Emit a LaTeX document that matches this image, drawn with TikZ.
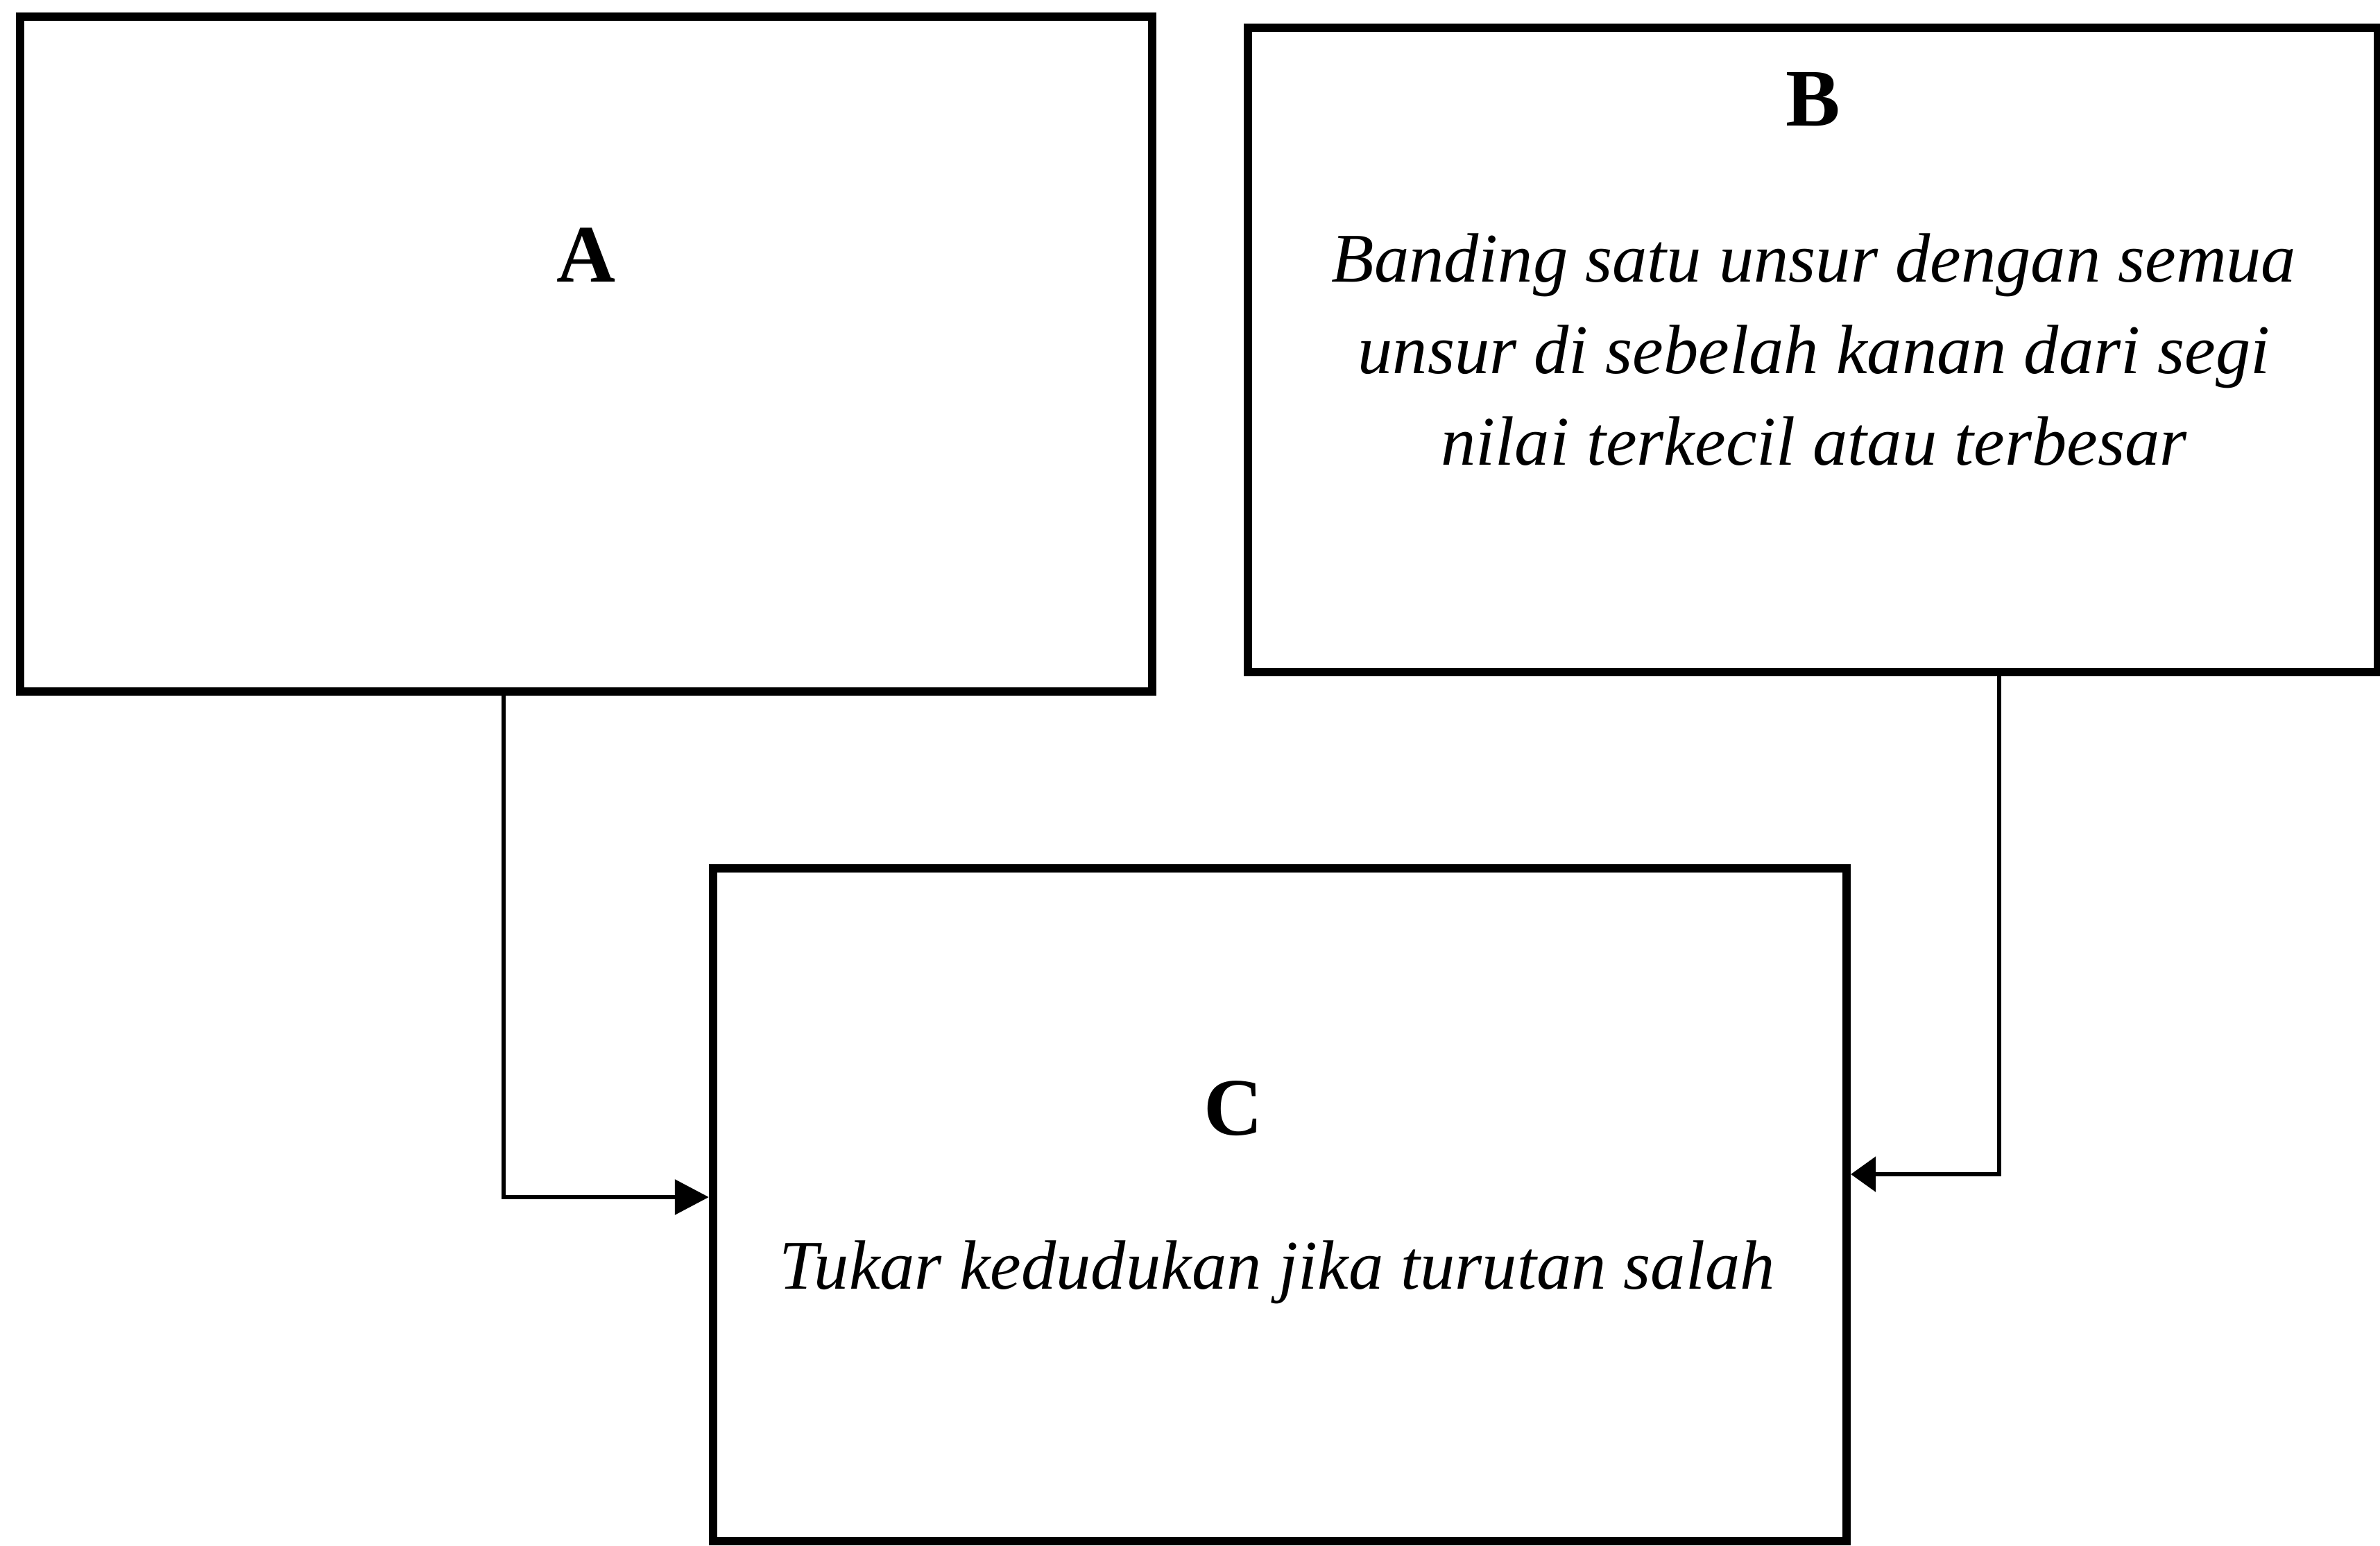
\documentclass[tikz,border=0pt]{standalone}
\usepackage{fontspec}
\setmainfont{Liberation Serif}
\usetikzlibrary{arrows.meta}
\begin{document}
\begin{tikzpicture}[
  stagebox/.style={draw=black, line width=3.5pt, fill=white, inner sep=0pt},
  conn/.style={draw=black, line width=1.7pt},
  headtip/.style={-{Triangle[length=#1, width=0.5cm]}},
  letter/.style={anchor=base, inner sep=0pt, font=\fontsize{33.5}{40}\selectfont\bfseries},
  body/.style={anchor=base, inner sep=0pt, align=center, font=\fontsize{28.6}{37.5}\selectfont\itshape}
]
\useasboundingbox (0,0) rectangle (34.31,-22.29);

% the three boxes
\node[stagebox, minimum width=16.32cm, minimum height=9.73cm] (A) at (8.45,-5.105) {};
\node[stagebox, minimum width=16.29cm, minimum height=9.29cm] (B) at (26.135,-5.045) {};
\node[stagebox, minimum width=16.34cm, minimum height=9.70cm] (C) at (18.45,-17.37) {};

% box labels
\node[letter] (labA) at (8.45,-4.07) {A};
\node[letter] (labB) at (26.14,-1.82) {B};
\node[letter] (labC) at (17.78,-16.36) {C};

% box descriptions (base anchor sits on the last line)
\node[body] (txtB) at (26.15,-6.70) {Banding satu unsur dengan semua\\unsur di sebelah kanan dari segi\\nilai terkecil atau terbesar};
\node[body] (txtC) at (18.41,-18.58) {Tukar kedudukan jika turutan salah};

% connectors into C
\draw[conn, headtip=0.49cm] ([xshift=-1.19cm]A.south) |- ([yshift=0.11cm]C.west);
\draw[conn, headtip=0.36cm] ([xshift=2.685cm]B.south) |- ([yshift=0.44cm]C.east);
\end{tikzpicture}
\end{document}
